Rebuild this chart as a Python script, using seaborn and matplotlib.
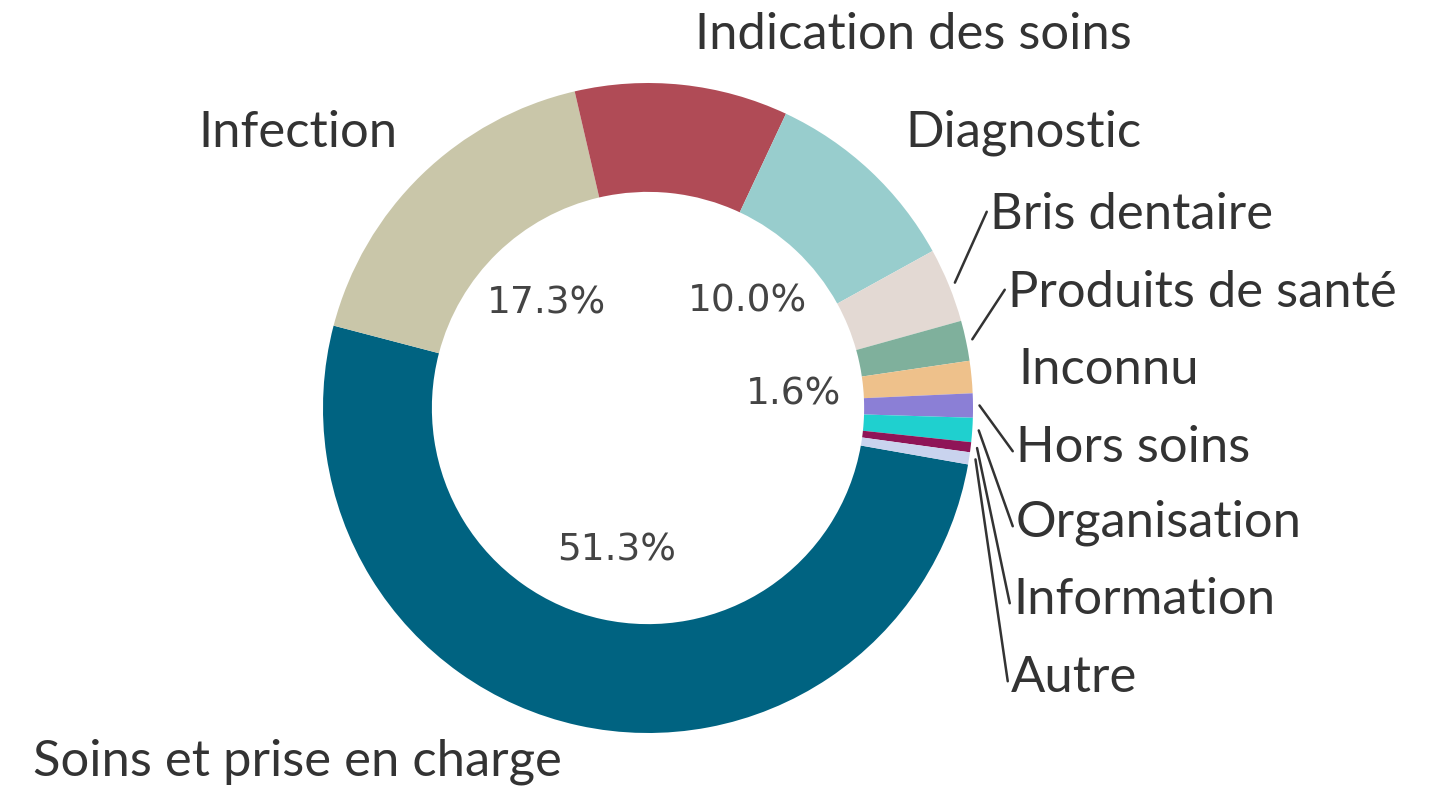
import numpy as np
import matplotlib
matplotlib.use("Agg")
import matplotlib.pyplot as plt
import seaborn as sns

sns.set_theme(style="white")
plt.rcParams['font.family'] = ['Lato', 'DejaVu Sans']

#--------------------------------------------------------------------------------------
categories = ['Soins et prise en charge', 'Infection', 'Indication des soins', 'Diagnostic',
              'Bris dentaire', 'Produits de santé', 'Inconnu', 'Hors soins',
              'Organisation', 'Information', 'Autre']
values = [51.3, 17.3, 10.6, 10.0, 3.7, 2.0, 1.6, 1.2, 1.2, 0.5, 0.6]
colors = ['#006381', '#c9c6a9', '#b04b56', '#98cdcd', '#e3d9d3', '#7fb09c',
          '#eec18b', '#8b7fd6', '#1fd0cf', '#8f1457', '#c9d3ee']
shown_pct = ['Soins et prise en charge', 'Infection', 'Diagnostic', 'Inconnu']
with_line = ['Bris dentaire', 'Produits de santé', 'Hors soins', 'Organisation',
             'Information', 'Autre']

# text anchor (pixel) for each name label, left-centre
label_px = {
    'Soins et prise en charge': (33, 762),
    'Infection': (198, 133),
    'Indication des soins': (695, 35),
    'Diagnostic': (905, 133),
    'Bris dentaire': (990, 215),
    'Produits de santé': (1008, 293),
    'Inconnu': (1018, 370),
    'Hors soins': (1016, 448),
    'Organisation': (1016, 523),
    'Information': (1013, 600),
    'Autre': (1011, 678),
}

#--------------------------------------------------------------------------------------
def px_to_data(x, y, cx=648, cy=408, r=325):
    return (x - cx) / r, (cy - y) / r


def draw_donut():
    fig = plt.figure(figsize=(14.37, 7.94), dpi=100)
    ax = fig.add_axes([0, 0, 1, 1])
    palette = sns.color_palette(colors)

    def fmt(pct):
        return ''

    wedges, _, autotexts = ax.pie(values, colors=palette, startangle=-10, counterclock=False,
                                  radius=1, autopct=fmt, pctdistance=0.45,
                                  wedgeprops=dict(width=0.335, linewidth=0))

    text_color = '#333333'
    for w, name, val, at in zip(wedges, categories, values, autotexts):
        if name in shown_pct:
            at.set_text('%.1f%%' % val)
            at.set_fontfamily('DejaVu Sans')
            at.set_fontsize(27)
            at.set_color('#444444')
        lx, ly = px_to_data(*label_px[name])
        ax.text(lx, ly, name, ha='left', va='center', fontsize=36.5, color=text_color)
        if name in with_line:
            ang = np.deg2rad((w.theta1 + w.theta2) / 2)
            sx, sy = 1.02 * np.cos(ang), 1.02 * np.sin(ang)
            ax.plot([sx, lx - 0.01], [sy, ly - 0.01 if ly < sy else ly + 0.01],
                    color='#333333', lw=1.8)

    ax.set_xlim(-648 / 325, (1437 - 648) / 325)
    ax.set_ylim(-(794 - 408) / 325, 408 / 325)
    ax.set_aspect('equal')
    ax.axis('off')
    fig.savefig('out.png', dpi=100)

#--------------------------------------------------------------------------------------
def main():
    draw_donut()

if __name__ == '__main__':
    main()
